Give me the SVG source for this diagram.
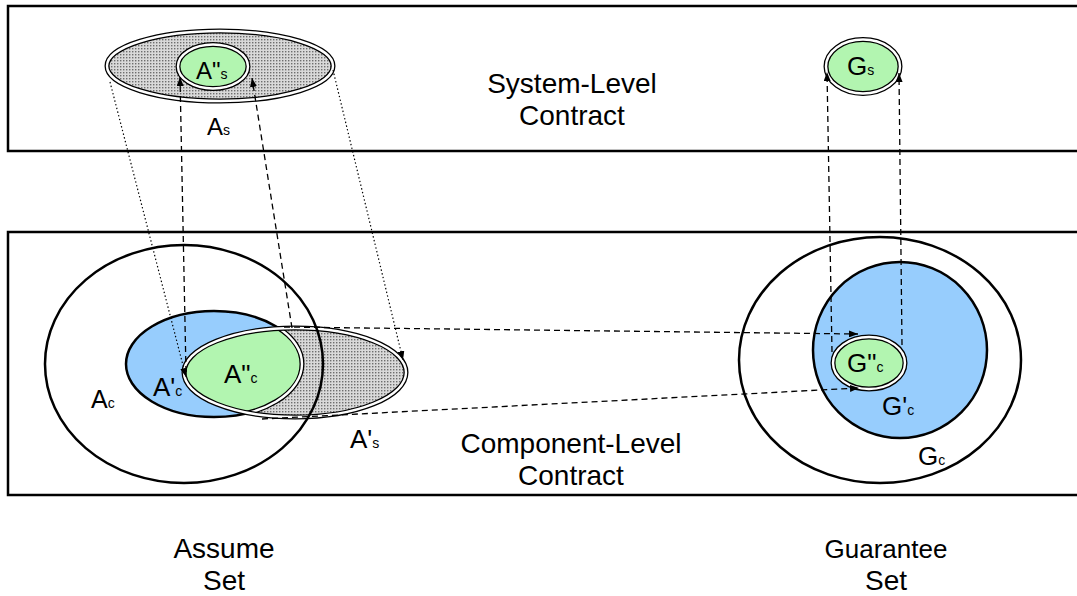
<svg xmlns="http://www.w3.org/2000/svg" width="1077" height="596" viewBox="0 0 1077 596">
  <style>
    text { font-family: "Liberation Sans", Arial, Helvetica, sans-serif; fill: #000; }
    .big { font-size: 28px; }
    .lbl { font-size: 25px; }
    .sub { font-size: 14px; }
    .box { fill: none; stroke: #000; stroke-width: 2.5; }
    .ring { fill: none; stroke: #000; stroke-width: 2.5; }
    .dbl-out { fill: none; stroke: #000; stroke-width: 5; }
    .dbl-in { fill: none; stroke: #fff; stroke-width: 2.4; }
    .green { fill: #b2f5b0; }
    .dash { fill: none; stroke: #000; stroke-width: 1.3; stroke-dasharray: 6 4; }
    .dot { fill: none; stroke: #000; stroke-width: 1.2; stroke-dasharray: 1.4 2.4; }
  </style>
  <defs>
    <pattern id="stipple" width="3" height="3" patternUnits="userSpaceOnUse">
      <rect width="3" height="3" fill="#d9d9d9"/>
      <rect width="1.4" height="1.4" fill="#6e6e6e"/>
    </pattern>
    <marker id="head" viewBox="0 0 9 7" refX="9" refY="3.5" markerWidth="9" markerHeight="7" markerUnits="userSpaceOnUse" orient="auto">
      <path d="M0,0 L9,3.5 L0,7 z" fill="#000"/>
    </marker>
    <clipPath id="clip-as-prime">
      <ellipse cx="295" cy="372.5" rx="111" ry="44.5"/>
    </clipPath>
  </defs>

  <!-- contract frames -->
  <g id="system-level-contract">
    <rect class="box" x="8" y="6" width="1090" height="145"/>
    <text class="big" x="572" y="93" text-anchor="middle">System-Level</text>
    <text class="big" x="572" y="125" text-anchor="middle">Contract</text>
  </g>
  <g id="component-level-contract">
    <rect class="box" x="8" y="232" width="1090" height="263"/>
    <text class="big" x="571" y="453" text-anchor="middle">Component-Level</text>
    <text class="big" x="571" y="485" text-anchor="middle">Contract</text>
  </g>

  <!-- assume side, component level -->
  <g id="node-Ac">
    <ellipse cx="184" cy="364" rx="139" ry="119" fill="#fff" stroke="none"/>
  </g>
  <g id="node-Ac-prime">
    <ellipse class="ring" cx="214" cy="364" rx="88" ry="53" style="fill:#97cdfd"/>
  </g>
  <g id="node-As-prime">
    <ellipse cx="295" cy="372.5" rx="111" ry="44.5" fill="url(#stipple)"/>
  </g>
  <g id="node-Ac-dprime" clip-path="url(#clip-as-prime)">
    <ellipse class="green" cx="214" cy="364" rx="88" ry="53"/>
    <ellipse class="dbl-out" cx="214" cy="364" rx="88" ry="53"/>
    <ellipse class="dbl-in" cx="214" cy="364" rx="88" ry="53"/>
  </g>
  <g id="node-As-prime-outline">
    <ellipse class="dbl-out" cx="295" cy="372.5" rx="111" ry="44.5"/>
    <ellipse class="dbl-in" cx="295" cy="372.5" rx="111" ry="44.5"/>
  </g>
  <g id="node-Ac-outline">
    <ellipse class="ring" cx="184" cy="364" rx="139" ry="119"/>
  </g>

  <!-- guarantee side, component level -->
  <g id="node-Gc">
    <ellipse class="ring" cx="880" cy="360" rx="141" ry="123" style="fill:#fff"/>
  </g>
  <g id="node-Gc-prime">
    <ellipse class="ring" cx="900" cy="350" rx="87" ry="88" style="fill:#97cdfd"/>
  </g>
  <g id="node-Gc-dprime">
    <ellipse class="green" cx="869" cy="363" rx="36" ry="26"/>
    <ellipse class="dbl-out" cx="869" cy="363" rx="36" ry="26"/>
    <ellipse class="dbl-in" cx="869" cy="363" rx="36" ry="26"/>
  </g>

  <!-- system level -->
  <g id="node-As">
    <ellipse cx="220" cy="66" rx="113" ry="35" fill="url(#stipple)"/>
    <ellipse class="dbl-out" cx="220" cy="66" rx="113" ry="35"/>
    <ellipse class="dbl-in" cx="220" cy="66" rx="113" ry="35"/>
  </g>
  <g id="node-As-dprime">
    <ellipse class="green" cx="213" cy="66.5" rx="35" ry="22"/>
    <ellipse class="dbl-out" cx="213" cy="66.5" rx="35" ry="22"/>
    <ellipse class="dbl-in" cx="213" cy="66.5" rx="35" ry="22"/>
  </g>
  <g id="node-Gs">
    <ellipse class="green" cx="863" cy="66.5" rx="37" ry="27"/>
    <ellipse class="dbl-out" cx="863" cy="66.5" rx="37" ry="27"/>
    <ellipse class="dbl-in" cx="863" cy="66.5" rx="37" ry="27"/>
  </g>

  <!-- connectors -->
  <g id="connectors">
    <path class="dot" d="M110,82 L186,377" marker-end="url(#head)"/>
    <path class="dot" d="M333,70 L403,360" marker-end="url(#head)"/>
    <path class="dash" d="M186,372 L180,77" marker-end="url(#head)"/>
    <path class="dash" d="M292,328 L252,78" marker-end="url(#head)"/>
    <path class="dash" d="M284,327 L858,334" marker-end="url(#head)"/>
    <path class="dash" d="M262,419 L859,388" marker-end="url(#head)"/>
    <path class="dash" d="M832,352 L827,72" marker-end="url(#head)"/>
    <path class="dash" d="M902,345 L899,73" marker-end="url(#head)"/>
  </g>

  <!-- set labels -->
  <g id="labels">
    <text class="lbl" x="196" y="79" style="font-size:24px">A"<tspan class="sub">s</tspan></text>
    <text class="lbl" x="207" y="135" style="font-size:24px">A<tspan class="sub">s</tspan></text>
    <text class="lbl" x="847" y="75" style="font-size:26px">G<tspan class="sub">s</tspan></text>
    <text class="lbl" x="91" y="408">A<tspan class="sub">c</tspan></text>
    <text class="lbl" x="153" y="396" style="font-size:26px">A'<tspan class="sub">c</tspan></text>
    <text class="lbl" x="224" y="383" style="font-size:26px">A"<tspan class="sub">c</tspan></text>
    <text class="lbl" x="350" y="448" style="font-size:26px">A'<tspan class="sub">s</tspan></text>
    <text class="lbl" x="847" y="372" style="font-size:26px">G"<tspan class="sub">c</tspan></text>
    <text class="lbl" x="882" y="415" style="font-size:26px">G'<tspan class="sub">c</tspan></text>
    <text class="lbl" x="918" y="465" style="font-size:26px">G<tspan class="sub">c</tspan></text>
  </g>

  <g id="captions">
    <text class="big" x="224" y="558" text-anchor="middle">Assume</text>
    <text class="big" x="224" y="590" text-anchor="middle">Set</text>
    <text class="big" x="886" y="558" text-anchor="middle" style="font-size:26px">Guarantee</text>
    <text class="big" x="886" y="590" text-anchor="middle">Set</text>
  </g>
</svg>
